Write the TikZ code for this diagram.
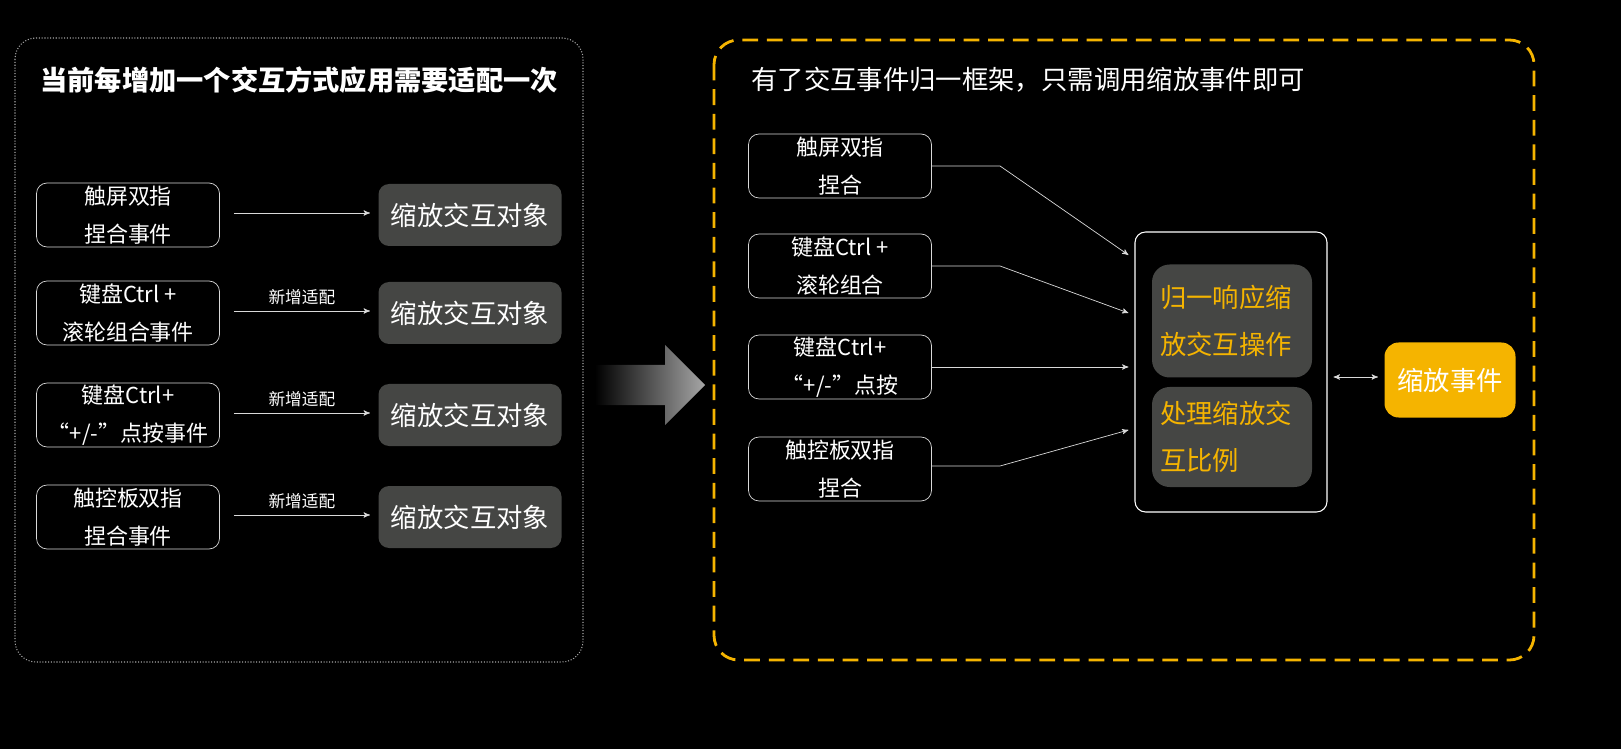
\documentclass[tikz,border=0pt]{standalone}
\usepackage{fontspec}
\setmainfont{Noto Sans CJK SC}
\usetikzlibrary{arrows,positioning,calc}
\definecolor{gold}{HTML}{F5B400}
\definecolor{darkbox}{HTML}{454644}
\begin{document}
\begin{tikzpicture}[x=0.02cm, y=-0.02cm, >=stealth', semithick]

    \tikzstyle{src} = [rectangle, rounded corners=6pt, minimum width=183*0.02cm, minimum height=64*0.02cm, inner sep=1pt, draw=white!85!black, thin, text=white, font=\fontsize{12.5}{21.5}\selectfont, align=center]
    \tikzstyle{dst} = [rectangle, rounded corners=6pt, minimum width=183*0.02cm, minimum height=62*0.02cm, fill=darkbox, text=white, font=\fontsize{15}{18}\selectfont]
    \tikzstyle{inner} = [rectangle, rounded corners=10pt, minimum width=160*0.02cm, text width=144*0.02cm, fill=darkbox, text=gold, font=\fontsize{15}{27}\selectfont, align=left]
    \tikzstyle{ttl} = [anchor=west, text=white, font=\fontsize{15}{18}\selectfont]
    \tikzstyle{lnk} = [->, white!85!black, thin]

    \fill[black] (0,0) rectangle (1621,749);
    \useasboundingbox (0,0) rectangle (1621,749);

    % left panel
    \draw[gray!70, densely dotted, rounded corners=12pt] (15,38) rectangle (583,662);
    \node (ltitle) [ttl, font=\fontsize{15.5}{18}\selectfont\bfseries] at (34,80) {当前每增加一个交互方式应用需要适配一次};

    \node (s1) [src] at (128,215) {触屏双指\\捏合事件};
    \node (s2) [src] at (128,313) {键盘Ctrl +\\滚轮组合事件};
    \node (s3) [src] at (128,415) {键盘Ctrl+\\“+/-”点按事件};
    \node (s4) [src] at (128,517) {触控板双指\\捏合事件};
    \foreach \i/\y in {1/215,2/313,3/415,4/517}
        \node (d\i) [dst] at (470,\y) {缩放交互对象};

    \draw[lnk] ($(s1.east)+(14,-2)$) -- ($(d1.west)+(-8,-2)$);
    \foreach \i in {2,3,4}
        \draw[lnk] ($(s\i.east)+(14,-2)$) -- node[above, text=white, font=\fontsize{9.5}{10}\selectfont] {新增适配} ($(d\i.west)+(-8,-2)$);

    % big arrow
    \shade[left color=black, right color=gray!70]
        (595,365) -- (665,365) -- (665,345) -- (705,385) -- (665,425) -- (665,405) -- (595,405) -- cycle;

    % right panel
    \draw[gold, line width=1.6pt, dash pattern=on 9pt off 5pt, rounded corners=14pt] (714,40) rectangle (1534,660);
    \node (rtitle) [ttl] at (745,80) {有了交互事件归一框架，只需调用缩放事件即可};

    \node (r1) [src] at (840,166) {触屏双指\\捏合};
    \node (r2) [src] at (840,266) {键盘Ctrl +\\滚轮组合};
    \node (r3) [src] at (840,367) {键盘Ctrl+\\“+/-”点按};
    \node (r4) [src] at (840,469) {触控板双指\\捏合};

    \node (hub) [draw=white, rounded corners=6pt, minimum width=192*0.02cm, minimum height=280*0.02cm] at (1231,372) {};
    \node (op1) [inner, minimum height=113*0.02cm] at (1232,321) {归一响应缩\\放交互操作};
    \node (op2) [inner, minimum height=100*0.02cm] at (1232,437) {处理缩放交\\互比例};
    \node (zoom) [rectangle, rounded corners=8pt, fill=gold, text=white, minimum width=131*0.02cm, minimum height=75*0.02cm, font=\fontsize{15}{18}\selectfont] at (1450,380) {缩放事件};

    \coordinate (k1) at (1000,166);
    \coordinate (k2) at (1000,266);
    \coordinate (k4) at (1000,466);
    \draw[lnk] (r1.east) -- (k1) -- ($(hub.west)+(-6,-117)$);
    \draw[lnk] (r2.east) -- (k2) -- ($(hub.west)+(-6,-59)$);
    \draw[lnk] (r3.east) -- ($(hub.west)+(-6,-5)$);
    \draw[lnk] ($(r4.east)+(0,-3)$) -- (k4) -- ($(hub.west)+(-6,58)$);
    \draw[<->, white!85!black, thin] ($(hub.east)+(6,5)$) -- ($(zoom.west)+(-6,-3)$);
\end{tikzpicture}
\end{document}
